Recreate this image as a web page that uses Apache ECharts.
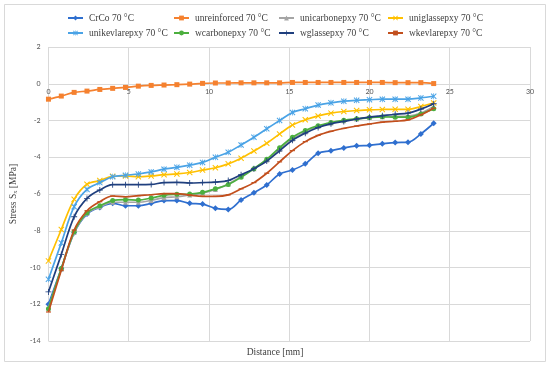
<!DOCTYPE html>
<html>
<head>
<meta charset="utf-8">
<script src="https://cdn.jsdelivr.net/npm/echarts@6/dist/echarts.min.js"></script>
<style>html,body{margin:0;padding:0;background:#fff}#c{width:550px;height:366px}</style>
</head>
<body>
<div id="c"></div>
<script>
const distance = [0,0.8,1.6,2.4,3.2,4,4.8,5.6,6.4,7.2,8,8.8,9.6,10.4,11.2,12,12.8,13.6,14.4,15.2,16,16.8,17.6,18.4,19.2,20,20.8,21.6,22.4,23.2,24];
const seriesNames = ['CrCo 70 °C','unreinforced 70 °C','unicarbonepxy 70 °C','uniglassepxy 70 °C','unikevlarepxy 70 °C','wcarbonepxy 70 °C','wglassepxy 70 °C','wkevlarepxy 70 °C'];
const crco = [-12.0,-10.06,-8.11,-7.09,-6.73,-6.51,-6.64,-6.64,-6.51,-6.36,-6.36,-6.51,-6.55,-6.78,-6.84,-6.33,-5.93,-5.51,-4.91,-4.69,-4.36,-3.78,-3.65,-3.49,-3.38,-3.35,-3.27,-3.20,-3.18,-2.73,-2.15];
const unreinforced = [-0.84,-0.67,-0.47,-0.40,-0.31,-0.25,-0.20,-0.13,-0.09,-0.07,-0.05,-0.02,0.02,0.04,0.04,0.05,0.05,0.05,0.05,0.07,0.07,0.07,0.07,0.07,0.07,0.07,0.07,0.06,0.06,0.06,0.01];
const unicarbon = [-12.2,-10.1,-8.1,-7.05,-6.7,-6.45,-6.45,-6.45,-6.35,-6.2,-6.15,-6.05,-5.95,-5.75,-5.45,-5.05,-4.62,-4.15,-3.58,-3.0,-2.62,-2.33,-2.14,-2.02,-1.92,-1.84,-1.79,-1.78,-1.76,-1.6,-1.24];
const uniglass = [-9.64,-7.93,-6.29,-5.47,-5.27,-5.04,-5.02,-5.06,-5.02,-4.95,-4.91,-4.83,-4.70,-4.57,-4.36,-4.05,-3.66,-3.24,-2.73,-2.25,-1.96,-1.75,-1.60,-1.51,-1.46,-1.42,-1.40,-1.39,-1.39,-1.24,-1.05];
const unikevlar = [-10.64,-8.66,-6.69,-5.75,-5.38,-5.06,-4.98,-4.91,-4.80,-4.65,-4.55,-4.43,-4.28,-4.0,-3.73,-3.33,-2.91,-2.45,-2.0,-1.56,-1.36,-1.16,-1.04,-0.95,-0.90,-0.87,-0.84,-0.84,-0.84,-0.77,-0.68];
const wcarbon = [-12.24,-10.06,-8.06,-7.02,-6.64,-6.36,-6.31,-6.33,-6.22,-6.07,-6.02,-6.0,-5.91,-5.72,-5.48,-5.09,-4.62,-4.11,-3.48,-2.91,-2.54,-2.28,-2.11,-1.99,-1.91,-1.84,-1.80,-1.82,-1.82,-1.64,-1.36];
const wglass = [-11.33,-9.29,-7.24,-6.24,-5.78,-5.49,-5.49,-5.49,-5.48,-5.38,-5.37,-5.40,-5.38,-5.35,-5.27,-4.95,-4.62,-4.21,-3.65,-3.08,-2.69,-2.38,-2.18,-2.05,-1.92,-1.82,-1.74,-1.66,-1.60,-1.38,-1.09];
const wkevlar = [-12.42,-10.15,-7.96,-6.91,-6.42,-6.11,-6.15,-6.09,-6.04,-5.98,-5.98,-6.06,-6.13,-6.13,-6.05,-5.72,-5.38,-4.87,-4.25,-3.64,-3.15,-2.81,-2.59,-2.43,-2.30,-2.19,-2.09,-2.04,-1.97,-1.69,-1.33];
const xTicks = {min:0, max:30, step:5};
const yTicks = {min:-14, max:2, step:2};

const values = [crco, unreinforced, unicarbon, uniglass, unikevlar, wcarbon, wglass, wkevlar];
const colors = ['#2F6FCF','#F5812F','#A5A5A5','#FFC000','#4AA3E6','#4CAF3F','#1F3F7E','#C24F1D'];
const X_PATH = 'path://M0,1.2 L1.2,0 L5,3.8 L8.8,0 L10,1.2 L6.2,5 L10,8.8 L8.8,10 L5,6.2 L1.2,10 L0,8.8 L3.8,5 Z';
const STAR_PATH = 'path://M0,1.2 L1.2,0 L4.4,3.2 L4.4,0 L5.6,0 L5.6,3.2 L8.8,0 L10,1.2 L6.2,5 L10,8.8 L8.8,10 L5.6,6.8 L5.6,10 L4.4,10 L4.4,6.8 L1.2,10 L0,8.8 L3.8,5 Z';
const PLUS_PATH = 'path://M4.3,0 H5.7 V4.3 H10 V5.7 H5.7 V10 H4.3 V5.7 H0 V4.3 H4.3 Z';
const DASH_PATH = 'path://M0,0 H10 V2 H0 Z';
const symbols = ['diamond','rect','triangle',X_PATH,STAR_PATH,'circle',PLUS_PATH,DASH_PATH];
const symSizes = [6,5,5,6,6,5,6,[5,1.2]];

const series = values.map((v,i)=>({
  name: seriesNames[i],
  type:'line',
  data: distance.map((d,j)=>[d, v[j]]),
  smooth: 0.35,
  symbol: symbols[i],
  symbolSize: symSizes[i],
  showAllSymbol: true,
  lineStyle:{color:colors[i], width:1.7},
  itemStyle:{color:colors[i]},
  emphasis:{disabled:true},
  z: 2+i
}));

const colX = [67,173,278,387];
const rowY = [13,28];
const legends = seriesNames.map((n,i)=>({
  data:[n],
  left: colX[i%4],
  top: rowY[Math.floor(i/4)],
  padding: 0,
  itemWidth: 15,
  itemHeight: 6,
  itemGap: 4,
  textStyle:{fontFamily:'"Liberation Serif","Times New Roman",serif', fontSize:9.5, color:'#404040', padding:[0,0,0,1]},
  selectedMode:false
}));

const GRID = {left:40, right:20, top:47, bottom:25};
const gridH = 366 - GRID.top - GRID.bottom;
const zeroOffset = -gridH * (0 - yTicks.min) / (yTicks.max - yTicks.min);

const chart = echarts.init(document.getElementById('c'), null, {renderer:'canvas'});
chart.setOption({
  animation:false,
  backgroundColor:'#fff',
  color: colors,
  grid:{left:GRID.left, right:GRID.right, top:GRID.top, bottom:GRID.bottom, containLabel:false},
  legend: legends,
  title:{text:'Distance [mm]', left:'center', bottom:4, textStyle:{fontFamily:'"Liberation Serif",serif', fontSize:9.5, fontWeight:'normal', color:'#404040'}},
  graphic:[{type:'rect', shape:{x:4.5,y:4.5,width:541,height:357}, style:{fill:null, stroke:'#D9D9D9', lineWidth:1}, silent:true, z:-1}],
  xAxis:{type:'value', min:xTicks.min, max:xTicks.max, interval:xTicks.step, position:'bottom', offset: zeroOffset,
    axisLine:{show:true, onZero:false, lineStyle:{color:'#D9D9D9'}},
    axisTick:{show:false},
    axisLabel:{fontFamily:'Carlito,"Liberation Sans",sans-serif', fontSize:8, color:'#595959', margin:4},
    splitLine:{show:true, lineStyle:{color:'#D9D9D9'}}},
  yAxis:{type:'value', min:yTicks.min, max:yTicks.max, interval:yTicks.step,
    name:'{a|Stress S}{b|x}{a| [MPa]}', nameLocation:'middle', nameGap:26, nameRotate:90,
    nameTextStyle:{rich:{a:{fontFamily:'"Liberation Serif",serif', fontSize:9.5, color:'#404040'}, b:{fontFamily:'"Liberation Serif",serif', fontSize:6.5, color:'#404040', padding:[5,0,0,0]}}},
    axisLine:{show:false, onZero:false}, axisTick:{show:false},
    axisLabel:{fontFamily:'Carlito,"Liberation Sans",sans-serif', fontSize:8, color:'#595959', margin:8},
    splitLine:{show:true, lineStyle:{color:'#D9D9D9'}}},
  series: series
});
</script>
</body>
</html>
